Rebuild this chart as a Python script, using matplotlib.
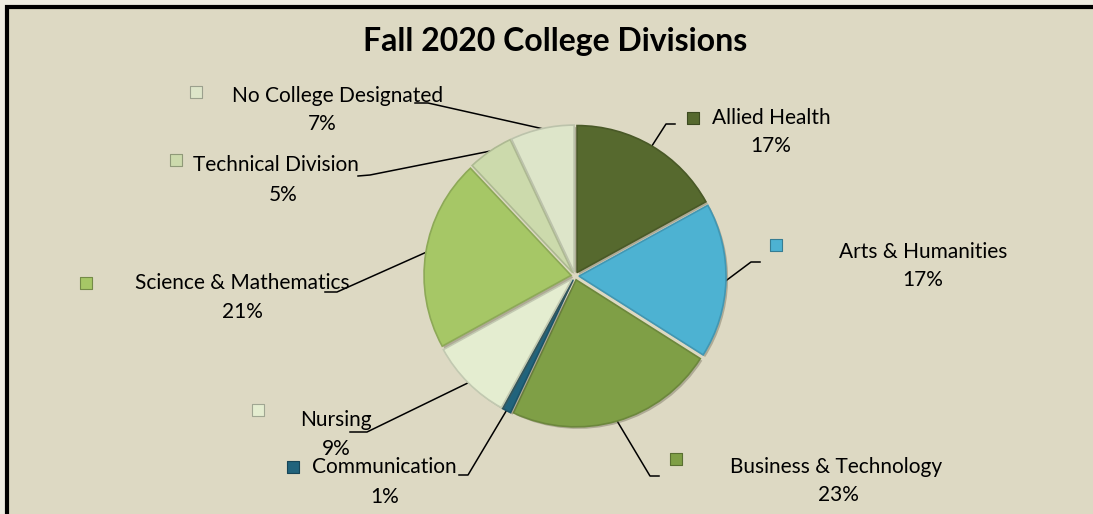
import numpy as np
import matplotlib
matplotlib.use('Agg')
import matplotlib.pyplot as plt
import matplotlib.patheffects as pe
from matplotlib.patches import Rectangle

# data
divisions = ['Allied Health', 'Arts & Humanities', 'Business & Technology',
             'Communication', 'Nursing', 'Science & Mathematics',
             'Technical Division', 'No College Designated']
shares = [17, 17, 23, 1, 9, 21, 5, 7]
colors = ['#56692E', '#4DB2D2', '#7F9F46', '#21637C',
          '#E4EDD0', '#A6C766', '#CCDAAC', '#DDE5C9']

W, H = 1093, 514
FONT = 'Lato'

# label layout in pixels (y down): marker, name centre, pct centre, elbow, end
layout = {
    'Allied Health':         ((693, 118), (771, 118), (771, 146), (666, 124), (675, 124)),
    'Arts & Humanities':     ((776, 245), (923, 252), (923, 280), (751, 262), (760, 262)),
    'Business & Technology': ((676, 459), (836, 467), (838, 495), (650, 476), (659, 476)),
    'Communication':         ((293, 467), (384, 467), (385, 497), (468, 475), (459, 475)),
    'Nursing':               ((258, 410), (336, 420), (336, 449), (367, 432), (350, 432)),
    'Science & Mathematics': ((86, 283), (242, 283), (242, 312), (337, 292), (325, 292)),
    'Technical Division':    ((176, 160), (276, 165), (283, 195), (370, 175), (358, 176)),
    'No College Designated': ((196, 92), (338, 96), (322, 124), (428, 103), (415, 103)),
}


def darker(c, f=0.75):
    rgb = np.array(matplotlib.colors.to_rgb(c))
    return tuple(rgb * f)


def main():
    fig = plt.figure(figsize=(W / 100, H / 100), dpi=100)
    fig.patch.set_facecolor('#EEECE1')
    ax = fig.add_axes([0, 0, 1, 1])
    ax.set_xlim(0, W)
    ax.set_ylim(H, 0)
    ax.axis('off')

    # chart area with black border (right/bottom cropped off)
    ax.add_patch(Rectangle((6.5, 6.5), W + 40, H + 40, facecolor='#DDD9C3',
                           edgecolor='black', lw=3, zorder=0))

    ax.text(555, 42, 'Fall 2020 College Divisions', ha='center', va='center',
            fontsize=23, fontweight='bold', family=FONT, color='black')

    # pie drawn in its own axes so angles behave normally
    cx, cy, r = 575, 276, 151
    pad = 10
    pax = fig.add_axes([(cx - r - pad) / W, (H - cy - r - pad) / H,
                        (2 * r + 2 * pad) / W, (2 * r + 2 * pad) / H], zorder=2)
    pax.patch.set_alpha(0)
    wedges, _ = pax.pie(shares, colors=colors, startangle=90, counterclock=False,
                        radius=r - 4, explode=[4] * len(shares),
                        wedgeprops=dict(linewidth=1.2))
    pax.set_xlim(-(r + pad), r + pad)
    pax.set_ylim(-(r + pad), r + pad)
    pax.axis('off')
    for w, c in zip(wedges, colors):
        w.set_edgecolor(darker(c, 0.85))
        w.set_path_effects([pe.SimplePatchShadow(offset=(1.5, -1.5), alpha=0.35,
                                                 shadow_rgbFace=(0.35, 0.33, 0.25)),
                            pe.Normal()])

    # leader lines + labels
    cum = np.cumsum([0] + shares)
    total = float(sum(shares))
    for i, name in enumerate(divisions):
        mk, nm, pc, elbow, end = layout[name]
        mid = (cum[i] + cum[i + 1]) / 2 / total * 2 * np.pi
        sx = cx + r * np.sin(mid)
        sy = cy - r * np.cos(mid)
        ax.plot([sx, elbow[0], end[0]], [sy, elbow[1], end[1]],
                color='black', lw=1.1, zorder=3)
        ax.scatter([mk[0]], [mk[1]], marker='s', s=72, color=colors[i],
                   edgecolor=darker(colors[i], 0.7), linewidth=0.8, zorder=4)
        ax.text(nm[0], nm[1], name, ha='center', va='center', fontsize=15,
                family=FONT, color='black', zorder=5)
        ax.text(pc[0], pc[1], '%d%%' % shares[i], ha='center', va='center',
                fontsize=15, family=FONT, color='black', zorder=5)

    fig.savefig('out.png', dpi=100, facecolor=fig.get_facecolor())


if __name__ == "__main__":
    main()
